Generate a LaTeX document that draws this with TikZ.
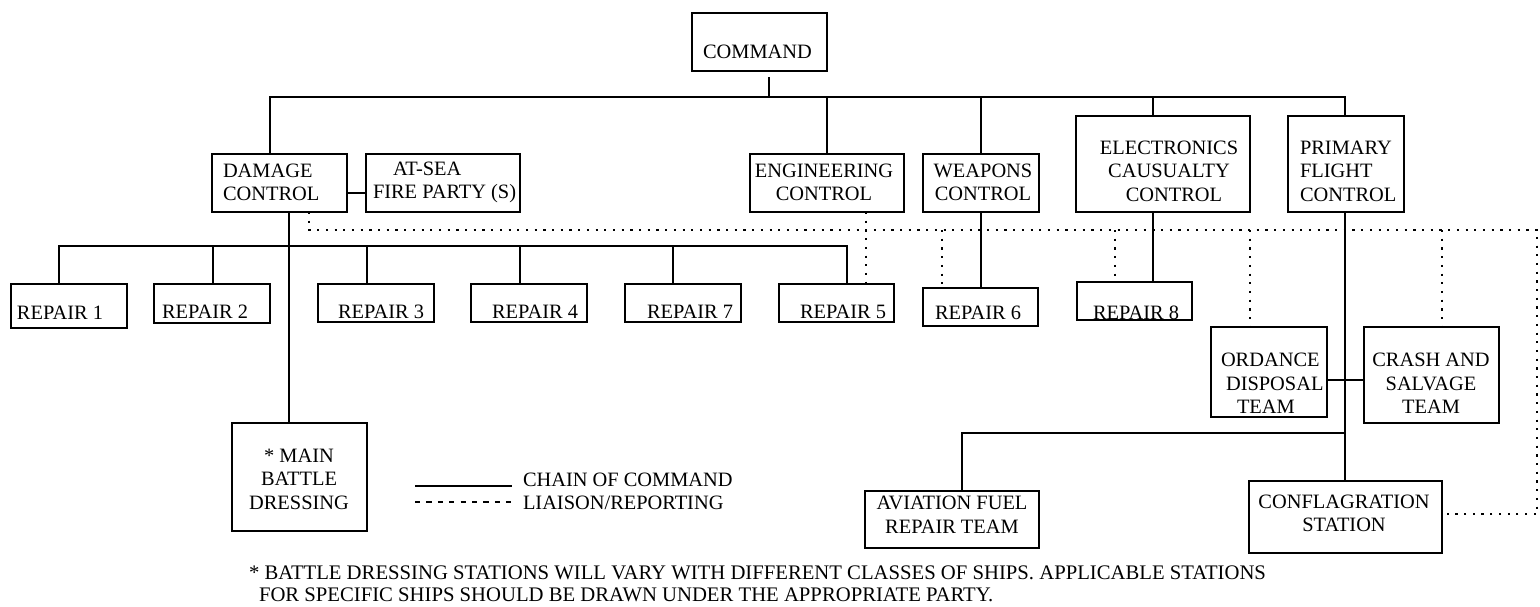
\documentclass[tikz,border=0pt]{standalone}
\usepackage{fontspec}
\setmainfont{Liberation Serif}
\begin{document}
\begin{tikzpicture}[x=0.5pt,y=-0.5pt,
  box/.style={draw, line width=1.2pt, inner sep=0pt, outer sep=0pt},
  txt/.style={inner sep=0pt, outer sep=0pt, font=\fontsize{10.2}{11.75}\selectfont},
  chain/.style={line width=1.2pt},
  liaison/.style={line width=1.2pt, dash pattern=on 1.1pt off 3.25pt},
  legdash/.style={line width=0.7pt, dash pattern=on 2.6pt off 3.1pt},
]
\useasboundingbox (0,0) rectangle (1540,606);

% ---- boxes ----
\node[box, minimum width=67.5pt, minimum height=29pt] (cmd) at (759.5,42) {};
\node[box, minimum width=67.5pt, minimum height=29pt] (dc) at (279.5,183) {};
\node[box, minimum width=77pt, minimum height=29pt] (atsea) at (443,183) {};
\node[box, minimum width=77pt, minimum height=29pt] (eng) at (827,183) {};
\node[box, minimum width=58pt, minimum height=29pt] (wea) at (981,183) {};
\node[box, minimum width=87pt, minimum height=48pt] (elec) at (1163,164) {};
\node[box, minimum width=58pt, minimum height=48pt] (pfc) at (1346,164) {};
\node[box, minimum width=58pt, minimum height=22pt] (r1) at (69,306) {};
\node[box, minimum width=58pt, minimum height=19.5pt] (r2) at (212,303.5) {};
\node[box, minimum width=58pt, minimum height=19pt] (r3) at (376,303) {};
\node[box, minimum width=58pt, minimum height=19pt] (r4) at (529,303) {};
\node[box, minimum width=58pt, minimum height=19pt] (r7) at (683,303) {};
\node[box, minimum width=57.5pt, minimum height=19pt] (r5) at (836.5,303) {};
\node[box, minimum width=57.5pt, minimum height=19pt] (r6) at (980.5,307) {};
\node[box, minimum width=57.5pt, minimum height=19pt] (r8) at (1134.5,301) {};
\node[box, minimum width=67.5pt, minimum height=54pt] (mbd) at (299.5,477) {};
\node[box, minimum width=58pt, minimum height=45pt] (ord) at (1269,372) {};
\node[box, minimum width=67.5pt, minimum height=48pt] (crash) at (1431.5,375) {};
\node[box, minimum width=87pt, minimum height=28.5pt] (avi) at (952,519.5) {};
\node[box, minimum width=96.5pt, minimum height=36pt] (confl) at (1345.5,517) {};

% ---- texts ----
\node[txt] (cmdt) at (757.5,52) {COMMAND};
\node[txt, align=left, anchor=west] (dct) at (223,182.5) {DAMAGE\\CONTROL};
\node[txt, align=left, anchor=west] (atseat) at (373,182.5) {\hspace*{10pt}AT-SEA\\FIRE PARTY (S)};
\node[txt, align=center] (engt) at (824,182.5) {ENGINEERING\\CONTROL};
\node[txt, align=center] (weat) at (983,182.5) {WEAPONS\\CONTROL};
\node[txt, align=center] (elect) at (1169,171) {ELECTRONICS\\CAUSUALTY\\\hspace*{5pt}CONTROL};
\node[txt, align=left, anchor=west] (pfct) at (1300,171) {PRIMARY\\FLIGHT\\CONTROL};
\node[txt, anchor=west] (r1t) at (17,312.5) {REPAIR 1};
\node[txt, anchor=west] (r2t) at (162,312) {REPAIR 2};
\node[txt, anchor=west] (r3t) at (338,312) {REPAIR 3};
\node[txt, anchor=west] (r4t) at (492,312) {REPAIR 4};
\node[txt, anchor=west] (r7t) at (647,312) {REPAIR 7};
\node[txt, anchor=west] (r5t) at (800,312) {REPAIR 5};
\node[txt, anchor=west] (r6t) at (935,313) {REPAIR 6};
\node[txt, anchor=west] (r8t) at (1093,313) {REPAIR 8};
\node[txt, align=center] (mbdt) at (299,479) {* MAIN\\BATTLE\\DRESSING};
\node[txt, align=left, anchor=west] (ordt) at (1221,383.5) {ORDANCE\\\hspace*{2.5pt}DISPOSAL\\\hspace*{8pt}TEAM};
\node[txt, align=center] (crasht) at (1431,383.5) {CRASH AND\\SALVAGE\\TEAM};
\node[txt, align=center] (avit) at (952,514.5) {AVIATION FUEL\\REPAIR TEAM};
\node[txt, align=center] (conflt) at (1344,513.5) {CONFLAGRATION\\STATION};

% ---- legend ----
\coordinate (lgA) at (415,486);
\coordinate (lgB) at (512,486);
\coordinate (lgC) at (415,502);
\coordinate (lgD) at (512,502);
\draw[line width=0.7pt] (lgA) -- (lgB);
\draw[legdash] (lgC) -- (lgD);
\node[txt, anchor=base west] (lg1) at (523,486) {CHAIN OF COMMAND};
\node[txt, anchor=base west] (lg2) at (523,509) {LIAISON/REPORTING};

% ---- footnote ----
\node[txt, anchor=west, font=\fontsize{10.35}{12}\selectfont] (fn1) at (249,573) {* BATTLE DRESSING STATIONS WILL VARY WITH DIFFERENT CLASSES OF SHIPS. APPLICABLE STATIONS};
\node[txt, anchor=west, font=\fontsize{10.35}{12}\selectfont] (fn2) at (259,595) {FOR SPECIFIC SHIPS SHOULD BE DRAWN UNDER THE APPROPRIATE PARTY.};

% ---- chain of command ----
\coordinate (cmdstem) at (769,77);
\coordinate (busL) at (270,97);
\coordinate (busR) at (1345,97);
\draw[chain] (cmdstem) -- (cmdstem |- busL);
\draw[chain] (busL |- dc.north) -- (busL) -- (busR) -- (busR |- pfc.north);
\draw[chain] (eng.north) -- (eng.north |- busL);
\draw[chain] (wea.north) -- (wea.north |- busL);
\coordinate (ex) at (1153,0);
\draw[chain] (elec.north -| ex) -- (ex |- busL);
\draw[chain] ([yshift=-5pt]dc.east) -- ([yshift=-5pt]atsea.west);
\coordinate (dcx) at (289,0);
\draw[chain] (dc.south -| dcx) -- (mbd.north -| dcx);
\coordinate (rbL) at (59,246);
\coordinate (rbR) at (847,246);
\coordinate (s2) at (213,246);
\coordinate (s3) at (367,246);
\coordinate (s4) at (520,246);
\coordinate (s7) at (673,246);
\draw[chain] (r1.north -| rbL) -- (rbL) -- (rbR) -- (rbR |- r5.north);
\draw[chain] (s2) -- (s2 |- r2.north);
\draw[chain] (s3) -- (s3 |- r3.north);
\draw[chain] (s4) -- (s4 |- r4.north);
\draw[chain] (s7) -- (s7 |- r7.north);
\draw[chain] (wea.south) -- (wea.south |- r6.north);
\draw[chain] (elec.south -| ex) -- (r8.north -| ex);
\draw[chain] (pfc.south -| busR) -- (confl.north -| busR);
\draw[chain] ([yshift=-4pt]ord.east) -- ([yshift=-4pt]ord.east -| crash.west);
\coordinate (avJ) at (1345,433);
\coordinate (avx) at (962,0);
\draw[chain] (avJ) -| (avi.north -| avx);

% ---- liaison / reporting ----
\coordinate (dL) at (309,230);
\coordinate (dR) at (1537,230);
\draw[liaison] (dc.south -| dL) -- (dL) -- (dR) |- ([yshift=1.5pt]confl.east);
\coordinate (l5) at (866,0);
\draw[liaison] (eng.south -| l5) -- (r5.north -| l5);
\coordinate (l6) at (942,230);
\draw[liaison] (l6) -- (l6 |- r6.north);
\coordinate (l8) at (1115,230);
\draw[liaison] (l8) -- (l8 |- r8.north);
\coordinate (lo) at (1250,230);
\draw[liaison] (lo) -- (lo |- ord.north);
\coordinate (lc) at (1442,230);
\draw[liaison] (lc) -- (lc |- crash.north);
\end{tikzpicture}
\end{document}
